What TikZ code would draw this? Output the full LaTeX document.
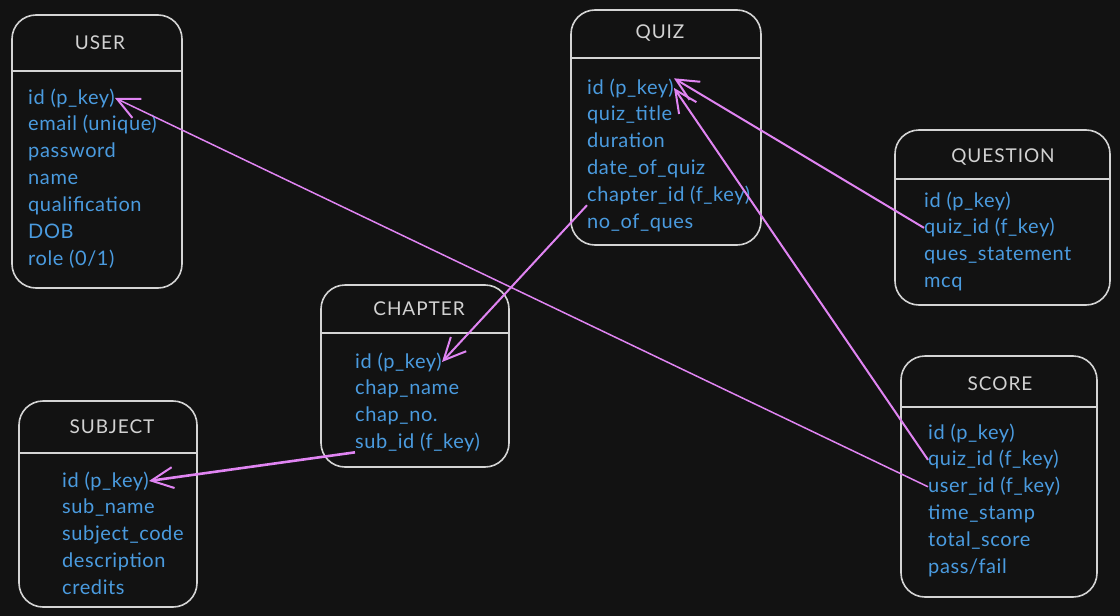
\documentclass[tikz,border=0pt]{standalone}
\usepackage{fontspec}
\setmainfont{Lato}
\newfontfamily\titlefont{Lato}[LetterSpace=5]
\newfontfamily\fieldfont{Lato}[LetterSpace=3]
\usetikzlibrary{arrows.meta,positioning}
\definecolor{bgdark}{HTML}{121212}
\definecolor{boxline}{HTML}{D4D4D4}
\definecolor{titlegrey}{HTML}{D2D2D2}
\definecolor{fieldblue}{HTML}{4A9BDF}
\definecolor{linkviolet}{HTML}{E084F2}

\tikzset{
	entbox/.style={draw=boxline, line width=1.6pt, rounded corners=24pt, inner sep=0pt},
	enttitle/.style={text=titlegrey, inner sep=0pt, font=\titlefont\fontsize{19}{22}\selectfont},
	field/.style={text=fieldblue, anchor=base west, inner sep=0pt, font=\fieldfont\fontsize{20}{24}\selectfont},
	sepline/.style={draw=boxline, line width=2pt},
	fk/.style={draw=linkviolet, line width=2pt, -{Straight Barb[length=22pt,width=21pt,line width=2pt]}},
}

\begin{document}
\begin{tikzpicture}[x=1pt, y=-1pt]
	\fill[bgdark] (0,0) rectangle (1120,616);
	\useasboundingbox (0,0) rectangle (1120,616);

	% USER
	\node[entbox, minimum width=170, minimum height=273] (user) at (97,151.5) {};
	\node[enttitle] (user-title) at (100,43) {USER};
	\draw[sepline] (12,71) -- (182,71);
	\foreach \f [count=\i] in {{id (p\_key)},{email (unique)},{password},{name},{qualification},{DOB},{role (0/1)}}
		\node[field] (user-\i) at (28,{104+26.9*(\i-1)}) {\f};

	% QUIZ
	\node[entbox, minimum width=190, minimum height=235] (quiz) at (666,127.5) {};
	\node[enttitle] (quiz-title) at (660,33) {QUIZ};
	\draw[sepline] (571,58) -- (761,58);
	\foreach \f [count=\i] in {{id (p\_key)},{quiz\_title},{duration},{date\_of\_quiz},{chapter\_id (f\_key)},{no\_of\_ques}}
		\node[field] (quiz-\i) at (587,{94+26.9*(\i-1)}) {\f};

	% QUESTION
	\node[entbox, minimum width=215, minimum height=175] (ques) at (1002.5,217.5) {};
	\node[enttitle] (ques-title) at (1003,157) {QUESTION};
	\draw[sepline] (895,179) -- (1110,179);
	\foreach \f [count=\i] in {{id (p\_key)},{quiz\_id (f\_key)},{ques\_statement},{mcq}}
		\node[field] (ques-\i) at (924,{207+26.9*(\i-1)}) {\f};

	% CHAPTER
	\node[entbox, minimum width=188, minimum height=182] (chap) at (415,376) {};
	\node[enttitle] (chap-title) at (419,309) {CHAPTER};
	\draw[sepline] (321,333) -- (509,333);
	\foreach \f [count=\i] in {{id (p\_key)},{chap\_name},{chap\_no.},{sub\_id (f\_key)}}
		\node[field] (chap-\i) at (355,{368+26.9*(\i-1)}) {\f};

	% SUBJECT
	\node[entbox, minimum width=178, minimum height=206] (subj) at (108,504) {};
	\node[enttitle] (subj-title) at (112,427) {SUBJECT};
	\draw[sepline] (19,453) -- (197,453);
	\foreach \f [count=\i] in {{id (p\_key)},{sub\_name},{subject\_code},{description},{credits}}
		\node[field] (subj-\i) at (62,{487+26.9*(\i-1)}) {\f};

	% SCORE
	\node[entbox, minimum width=196, minimum height=241] (score) at (999,476.5) {};
	\node[enttitle] (score-title) at (1000,384) {SCORE};
	\draw[sepline] (901,407) -- (1097,407);
	\foreach \f [count=\i] in {{id (p\_key)},{quiz\_id (f\_key)},{user\_id (f\_key)},{time\_stamp},{total\_score},{pass/fail}}
		\node[field] (score-\i) at (928,{439+26.9*(\i-1)}) {\f};

	% keys
	\draw[fk, line width=1.5pt] (score-3.west) -- (user-1.east);
	\draw[fk] (score-2.west) -- (quiz-1.east);
	\draw[fk] (ques-2.west) -- (quiz-1.north east);
	\draw[fk] (quiz-5.south west) -- (chap-1.east);
	\draw[fk, line width=2.6pt] (chap-4.south west) -- (subj-1.east);
\end{tikzpicture}
\end{document}
